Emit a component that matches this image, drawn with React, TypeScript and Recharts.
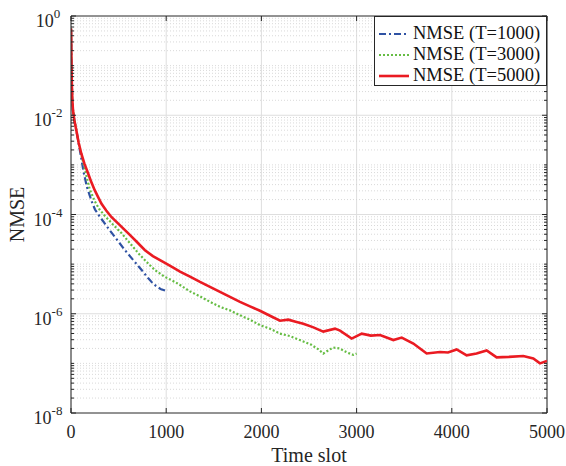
import { LineChart, Line, XAxis, YAxis, CartesianGrid, ReferenceLine, Legend } from "recharts";

const W = 566;
const H = 466;
// plot box (px)
const PL = 71;
const PR = 547;
const PT = 16;
const PB = 413;

const AXIS = "#262626";
const FONT = "'Liberation Serif', 'Times New Roman', serif";

const BLUE = "#2f52a3";
const GREEN = "#66bd44";
const RED = "#ea1b22";

// T = 1000
const slotsT1000 = [0, 2, 4, 7, 10, 14, 21, 35, 56, 80, 100, 133, 168, 214, 252, 305, 392, 480, 567, 655, 742, 810, 865, 940, 1000];
const nmseT1000 = [5.62e-1, 3.98e-1, 1.58e-1, 6.31e-2, 3.55e-2, 2.0e-2, 1.26e-2, 7.94e-3, 5.01e-3, 2.75e-3, 1.66e-3, 7.08e-4, 3.55e-4, 1.91e-4, 1.26e-4, 8.91e-5, 5.25e-5, 3.16e-5, 1.91e-5, 1.2e-5, 7.59e-6, 5.25e-6, 3.98e-6, 3.16e-6, 2.88e-6];

// T = 3000
const slotsT3000 = [0, 2, 4, 7, 10, 14, 21, 35, 56, 80, 100, 144, 196, 252, 300, 357, 440, 532, 620, 707, 795, 882, 980, 1092, 1145, 1250, 1355, 1460, 1565, 1670, 1775, 1880, 1985, 2090, 2195, 2300, 2405, 2520, 2600, 2650, 2700, 2755, 2820, 2900, 2966, 3000];
const nmseT3000 = [5.62e-1, 3.98e-1, 1.58e-1, 6.31e-2, 3.55e-2, 2.0e-2, 1.26e-2, 7.94e-3, 5.01e-3, 2.75e-3, 1.91e-3, 8.32e-4, 3.24e-4, 1.82e-4, 1.26e-4, 9.33e-5, 6.31e-5, 4.17e-5, 2.63e-5, 1.66e-5, 1.1e-5, 7.59e-6, 5.62e-6, 4.37e-6, 3.8e-6, 2.82e-6, 2.24e-6, 1.74e-6, 1.38e-6, 1.17e-6, 9.33e-7, 7.59e-7, 5.89e-7, 5.01e-7, 3.98e-7, 3.55e-7, 2.95e-7, 2.4e-7, 1.91e-7, 1.58e-7, 1.82e-7, 2.09e-7, 2.0e-7, 1.66e-7, 1.48e-7, 1.58e-7];

// T = 5000
const slotsT5000 = [0, 2, 4, 7, 10, 14, 21, 35, 56, 80, 108, 140, 179, 210, 249, 285, 319, 370, 424, 510, 602, 690, 777, 860, 935, 1010, 1092, 1145, 1250, 1355, 1460, 1565, 1670, 1775, 1880, 1985, 2090, 2195, 2283, 2360, 2440, 2540, 2650, 2773, 2826, 2948, 3054, 3150, 3246, 3386, 3474, 3596, 3680, 3736, 3876, 3960, 4051, 4156, 4260, 4366, 4471, 4600, 4751, 4856, 4926, 5000];
const nmseT5000 = [5.62e-1, 3.98e-1, 1.58e-1, 6.31e-2, 3.55e-2, 2.0e-2, 1.26e-2, 7.94e-3, 5.01e-3, 2.82e-3, 1.7e-3, 1.07e-3, 6.76e-4, 4.68e-4, 3.09e-4, 2.24e-4, 1.66e-4, 1.2e-4, 8.91e-5, 6.17e-5, 4.17e-5, 2.82e-5, 1.91e-5, 1.45e-5, 1.2e-5, 1.0e-5, 8.13e-6, 7.08e-6, 5.62e-6, 4.37e-6, 3.47e-6, 2.75e-6, 2.19e-6, 1.74e-6, 1.41e-6, 1.15e-6, 9.12e-7, 7.24e-7, 7.59e-7, 6.92e-7, 6.31e-7, 5.37e-7, 4.37e-7, 5.01e-7, 4.57e-7, 3.16e-7, 3.98e-7, 3.63e-7, 3.72e-7, 2.95e-7, 3.31e-7, 2.51e-7, 1.91e-7, 1.58e-7, 1.7e-7, 1.66e-7, 1.91e-7, 1.45e-7, 1.58e-7, 1.82e-7, 1.32e-7, 1.35e-7, 1.41e-7, 1.26e-7, 1.0e-7, 1.12e-7];

const xTicks = [0, 1000, 2000, 3000, 4000, 5000];
const yDecades = [1e-8, 1e-7, 1e-6, 1e-5, 1e-4, 1e-3, 1e-2, 1e-1, 1];
const yLabelled = [1e-8, 1e-6, 1e-4, 1e-2, 1];

const toRows = (slots: number[], vals: number[]) => slots.map((s, i) => ({ slot: s, nmse: vals[i] }));
const t1000 = toRows(slotsT1000, nmseT1000);
const t3000 = toRows(slotsT3000, nmseT3000);
const t5000 = toRows(slotsT5000, nmseT5000);

// log minor ticks: 1..9 x each decade
const yTicks = yDecades
  .slice(0, -1)
  .flatMap(d => [1, 2, 3, 4, 5, 6, 7, 8, 9].map(k => k * d))
  .concat([1]);

const isLabelled = (v: number) => yLabelled.some(l => Math.abs(Math.log10(v) - Math.log10(l)) < 1e-6);
const minorGrid = yTicks.filter(v => !isLabelled(v));
const majorGrid = yLabelled.filter(v => v > 1e-8 && v < 1);

const legendItems = [
  { name: "NMSE (T=1000)", color: BLUE, dash: "7 3 2 3", width: 2.2 },
  { name: "NMSE (T=3000)", color: GREEN, dash: "2 2", width: 2.2 },
  { name: "NMSE (T=5000)", color: RED, dash: undefined, width: 2.6 },
];

const YTick = (props: any) => {
  const { y, payload } = props;
  const v = payload.value;
  const major = isLabelled(v);
  const e = Math.round(Math.log10(v));
  const len = major ? 5 : 3;
  return (
    <g>
      <line x1={PL} x2={PL + len} y1={y} y2={y} stroke={AXIS} strokeWidth={1} />
      <line x1={PR - len} x2={PR} y1={y} y2={y} stroke={AXIS} strokeWidth={1} />
      {major && (
        <text x={48} y={y + 11} textAnchor="middle" fill={AXIS} fontFamily={FONT} fontSize={18}>
          <tspan>10</tspan>
          <tspan dy={-9} fontSize={13}>{e}</tspan>
        </text>
      )}
    </g>
  );
};

const XTick = (props: any) => {
  const { x, payload } = props;
  return (
    <g>
      <line x1={x} x2={x} y1={PB} y2={PB - 5} stroke={AXIS} strokeWidth={1} />
      <line x1={x} x2={x} y1={PT} y2={PT + 5} stroke={AXIS} strokeWidth={1} />
      <text x={x} y={PB + 24.5} textAnchor="middle" fill={AXIS} fontFamily={FONT} fontSize={18}>
        {payload.value}
      </text>
    </g>
  );
};

const XLabel = () => (
  <text x={(PL + PR) / 2} y={462} textAnchor="middle" fill={AXIS} fontFamily={FONT} fontSize={20}>
    Time slot
  </text>
);

const YLabel = () => (
  <text transform={`translate(24,${(PT + PB) / 2}) rotate(-90)`} textAnchor="middle" fill={AXIS} fontFamily={FONT} fontSize={20}>
    NMSE
  </text>
);

const LegendBox = () => (
  <div
    style={{
      width: PR - 374,
      height: 70,
      boxSizing: "border-box",
      border: `1px solid ${AXIS}`,
      background: "#fff",
      padding: "6px 0 0 3px",
      fontFamily: FONT,
      fontSize: 18.5,
      color: "#111",
    }}
  >
    {legendItems.map(it => (
      <div key={it.name} style={{ display: "flex", alignItems: "center", height: 21, whiteSpace: "nowrap" }}>
        <svg width={32} height={10} style={{ marginRight: 3 }}>
          <line x1={1} x2={31} y1={5} y2={5} stroke={it.color} strokeWidth={it.width} strokeDasharray={it.dash} />
        </svg>
        <span>{it.name}</span>
      </div>
    ))}
  </div>
);

export default function App() {
  return (
    <div style={{ position: "absolute", left: 0, top: 0, width: W, height: H, background: "#fff" }}>
      <LineChart width={W} height={H} margin={{ top: PT, right: W - PR, bottom: 0, left: 0 }}>
        <CartesianGrid horizontal={false} stroke="#dedede" strokeWidth={1} />
        {minorGrid.map(v => (
          <ReferenceLine key={"mn" + v} y={v} stroke="#cfcfcf" strokeWidth={0.8} strokeDasharray="1 2" ifOverflow="hidden" />
        ))}
        {majorGrid.map(v => (
          <ReferenceLine key={"mj" + v} y={v} stroke="#dedede" strokeWidth={1} />
        ))}
        <XAxis
          type="number"
          dataKey="slot"
          domain={[0, 5000]}
          ticks={xTicks}
          interval={0}
          tick={<XTick />}
          tickLine={false}
          axisLine={{ stroke: AXIS, strokeWidth: 1 }}
          height={H - PB}
          allowDataOverflow
          label={<XLabel />}
        />
        <YAxis
          type="number"
          scale="log"
          domain={[1e-8, 1]}
          ticks={yTicks}
          interval={0}
          tick={<YTick />}
          tickLine={false}
          axisLine={{ stroke: AXIS, strokeWidth: 1 }}
          width={PL}
          allowDataOverflow
          label={<YLabel />}
        />
        {/* box: top and right edges */}
        <ReferenceLine y={1} stroke={AXIS} strokeWidth={1} />
        <ReferenceLine x={5000} stroke={AXIS} strokeWidth={1} />

        <Line data={t1000} dataKey="nmse" type="linear" stroke={BLUE} strokeWidth={2.2} strokeDasharray="7 3 2 3" dot={false} isAnimationActive={false} />
        <Line data={t3000} dataKey="nmse" type="linear" stroke={GREEN} strokeWidth={2.2} strokeDasharray="2 2" dot={false} isAnimationActive={false} />
        <Line data={t5000} dataKey="nmse" type="linear" stroke={RED} strokeWidth={2.6} dot={false} isAnimationActive={false} />

        <Legend
          layout="vertical"
          align="center"
          verticalAlign="middle"
          wrapperStyle={{ top: PT, left: 374, width: PR - 374, right: "auto", bottom: "auto" }}
          content={() => <LegendBox />}
        />
      </LineChart>
    </div>
  );
}
